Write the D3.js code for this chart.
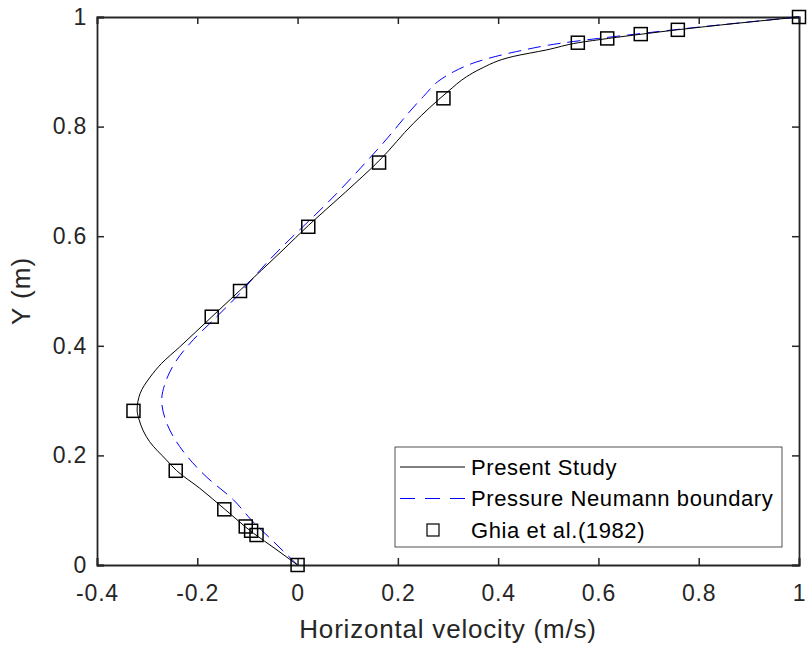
<!DOCTYPE html>
<html>
<head>
<meta charset="utf-8">
<script src="https://cdn.jsdelivr.net/npm/d3@7"></script>
<style>
  body { margin: 0; background: #fff; }
  text { font-family: Arial, "Liberation Sans", Helvetica, sans-serif; fill: #262626; }
  .axis path, .axis line { stroke: #262626; }
</style>
</head>
<body>
<script>
const margin = {top: 17, right: 9, bottom: 85, left: 97},
  width = 808 - margin.left - margin.right,
  height = 650 - margin.top - margin.bottom;

// Present Study (black solid): y position and horizontal velocity
const presentY = [0, 0.03, 0.058, 0.1016, 0.14, 0.172, 0.192, 0.225, 0.265, 0.283, 0.313, 0.343, 0.368, 0.398,
  0.453, 0.501, 0.575, 0.62, 0.68, 0.739, 0.806, 0.864, 0.891, 0.905, 0.928, 0.94, 0.9531, 0.9609, 0.9688, 0.9766, 1];
const presentU = [0, -0.045, -0.088, -0.145, -0.195, -0.241, -0.262, -0.295, -0.316, -0.32, -0.314, -0.294, -0.271, -0.235,
  -0.171, -0.115, -0.029, 0.022, 0.095, 0.164, 0.231, 0.30, 0.337, 0.364, 0.43, 0.497, 0.56, 0.62, 0.687, 0.757, 1];

// Pressure Neumann boundary (blue dashed)
const neumannY = [0, 0.04, 0.082, 0.119, 0.161, 0.216, 0.259, 0.301, 0.332, 0.374, 0.411, 0.447, 0.49, 0.551,
  0.678, 0.763, 0.855, 0.885, 0.9, 0.918, 0.937, 0.952, 0.9609, 0.9688, 0.9766, 1];
const neumannU = [0, -0.045, -0.092, -0.128, -0.182, -0.235, -0.261, -0.271, -0.264, -0.241, -0.208, -0.168, -0.121, -0.062,
  0.078, 0.164, 0.251, 0.284, 0.311, 0.357, 0.437, 0.524, 0.60, 0.675, 0.75, 1];

// Ghia et al. (1982)
const ghiaY = [1, 0.9766, 0.9688, 0.9609, 0.9531, 0.8516, 0.7344, 0.6172, 0.5, 0.4531, 0.2813, 0.1719, 0.1016, 0.0703, 0.0625, 0.0547, 0];
const ghiaU = [1, 0.75837, 0.68439, 0.61756, 0.55892, 0.29093, 0.16256, 0.02135, -0.11477, -0.17119, -0.32726, -0.24299, -0.14612, -0.10338, -0.09266, -0.08186, 0];

const xTicks = [-0.4, -0.2, 0, 0.2, 0.4, 0.6, 0.8, 1];
const yTicks = [0, 0.2, 0.4, 0.6, 0.8, 1];
const legendLabels = ["Present Study", "Pressure Neumann boundary", "Ghia et al.(1982)"];

const x = d3.scaleLinear().domain([-0.4, 1]).range([0, width]);
const y = d3.scaleLinear().domain([0, 1]).range([height, 0]);

const svg = d3.select("body").append("svg")
  .attr("width", 808)
  .attr("height", 650)
  .append("g")
  .attr("transform", "translate(" + margin.left + "," + margin.top + ")");

// MATLAB style labels: plain hyphen, no trailing zeros on 0 and 1
const fmt = d => (d === 0 || d === 1) ? String(d) : d.toFixed(1);

// axes: ticks point inward on all four sides
svg.append("g").attr("class", "axis")
  .attr("transform", "translate(0," + height + ")")
  .call(d3.axisBottom(x).tickValues(xTicks).tickSize(-7).tickPadding(20).tickFormat(fmt))
  .call(g => g.selectAll("text").style("font-size", "23px").style("letter-spacing", "0.8px"));
svg.append("g").attr("class", "axis")
  .call(d3.axisTop(x).tickValues(xTicks).tickSize(-7).tickFormat(""));
svg.append("g").attr("class", "axis")
  .call(d3.axisLeft(y).tickValues(yTicks).tickSize(-7).tickPadding(10).tickFormat(fmt))
  .call(g => g.selectAll("text").style("font-size", "23px").style("letter-spacing", "0.8px"));
svg.append("g").attr("class", "axis")
  .attr("transform", "translate(" + width + ",0)")
  .call(d3.axisRight(y).tickValues(yTicks).tickSize(-7).tickFormat(""));
svg.selectAll(".axis path").attr("stroke-width", 1.8);
svg.selectAll(".axis line").attr("stroke-width", 1.5);

const line = d3.line().curve(d3.curveMonotoneY).x(d => x(d[1])).y(d => y(d[0]));

svg.append("path")
  .datum(d3.zip(neumannY, neumannU))
  .attr("fill", "none")
  .attr("stroke", "#0000ff")
  .attr("stroke-width", 1)
  .attr("stroke-dasharray", "13,7")
  .attr("d", line);

svg.append("path")
  .datum(d3.zip(presentY, presentU))
  .attr("fill", "none")
  .attr("stroke", "#000")
  .attr("stroke-width", 1)
  .attr("d", line);

const sq = 13;
svg.selectAll(".ghia")
  .data(d3.zip(ghiaY, ghiaU))
  .enter().append("rect")
  .attr("class", "ghia")
  .attr("x", d => x(d[1]) - sq / 2)
  .attr("y", d => y(d[0]) - sq / 2)
  .attr("width", sq)
  .attr("height", sq)
  .attr("fill", "none")
  .attr("stroke", "#000")
  .attr("stroke-width", 1.5);

// axis labels
svg.append("text")
  .attr("x", width / 2)
  .attr("y", height + 73)
  .attr("text-anchor", "middle")
  .style("font-size", "26px")
  .style("letter-spacing", "0.8px")
  .text("Horizontal velocity (m/s)");

svg.append("text")
  .attr("transform", "translate(" + (-67) + "," + (height / 2) + ") rotate(-90)")
  .attr("text-anchor", "middle")
  .style("font-size", "26px")
  .style("letter-spacing", "1px")
  .text("Y (m)");

// legend
const legend = svg.append("g").attr("transform", "translate(298,430)");
legend.append("rect")
  .attr("width", 387).attr("height", 100)
  .attr("fill", "#fff").attr("stroke", "#262626").attr("stroke-width", 0.8);
const rowY = [20, 51.5, 83];
legend.append("line").attr("x1", 5).attr("x2", 70).attr("y1", rowY[0]).attr("y2", rowY[0])
  .attr("stroke", "#000").attr("stroke-width", 1);
legend.append("line").attr("x1", 5).attr("x2", 70).attr("y1", rowY[1]).attr("y2", rowY[1])
  .attr("stroke", "#0000ff").attr("stroke-width", 1).attr("stroke-dasharray", "15,10");
legend.append("rect").attr("x", 38 - 6).attr("y", rowY[2] - 6).attr("width", 12).attr("height", 12)
  .attr("fill", "none").attr("stroke", "#000").attr("stroke-width", 1.2);
legend.selectAll(".lt")
  .data(legendLabels)
  .enter().append("text")
  .attr("x", 76)
  .attr("y", (d, i) => rowY[i])
  .attr("dy", "0.35em")
  .style("font-size", "22px")
  .style("letter-spacing", "0.6px")
  .style("fill", "#000")
  .text(d => d);
</script>
</body>
</html>
